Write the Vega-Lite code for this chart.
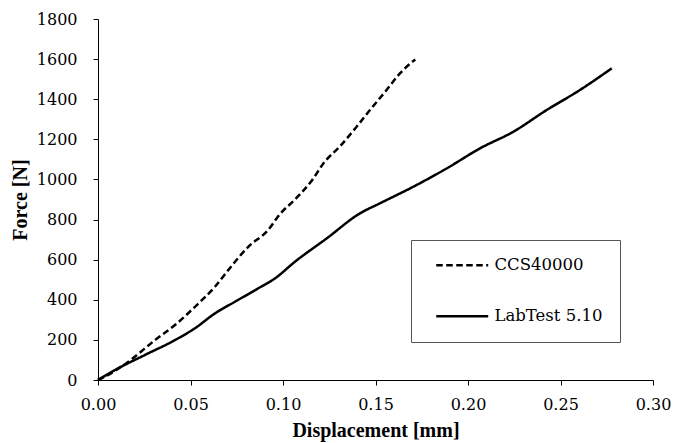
{
  "$schema": "https://vega.github.io/schema/vega-lite/v6.json",
  "width": 555,
  "height": 361,
  "autosize": "none",
  "padding": {"left": 98, "top": 19, "right": 20, "bottom": 63},
  "background": "white",
  "config": {
    "view": {"stroke": null},
    "font": "DejaVu Serif",
    "axis": {"labelFont": "DejaVu Serif", "titleFont": "Liberation Serif", "labelFontSize": 16, "titleFontSize": 20, "titleFontWeight": "bold", "labelColor": "black", "titleColor": "black", "domainColor": "black", "tickColor": "black", "grid": false, "tickSize": 5, "labelFlush": false}
  },
  "data": {"values": [
    {"s": "CCS40000", "x": 0, "y": 0},
    {"s": "CCS40000", "x": 0.0038, "y": 17},
    {"s": "CCS40000", "x": 0.0164, "y": 91},
    {"s": "CCS40000", "x": 0.0308, "y": 199},
    {"s": "CCS40000", "x": 0.0416, "y": 274},
    {"s": "CCS40000", "x": 0.0524, "y": 365},
    {"s": "CCS40000", "x": 0.0632, "y": 465},
    {"s": "CCS40000", "x": 0.0704, "y": 548},
    {"s": "CCS40000", "x": 0.0812, "y": 664},
    {"s": "CCS40000", "x": 0.092, "y": 748},
    {"s": "CCS40000", "x": 0.0984, "y": 828},
    {"s": "CCS40000", "x": 0.1065, "y": 900},
    {"s": "CCS40000", "x": 0.1164, "y": 1005},
    {"s": "CCS40000", "x": 0.1218, "y": 1080},
    {"s": "CCS40000", "x": 0.1308, "y": 1165},
    {"s": "CCS40000", "x": 0.1398, "y": 1263},
    {"s": "CCS40000", "x": 0.147, "y": 1346},
    {"s": "CCS40000", "x": 0.156, "y": 1446},
    {"s": "CCS40000", "x": 0.1632, "y": 1529},
    {"s": "CCS40000", "x": 0.1715, "y": 1598},
    {"s": "LabTest 5.10", "x": 0, "y": 0},
    {"s": "LabTest 5.10", "x": 0.0092, "y": 50},
    {"s": "LabTest 5.10", "x": 0.0254, "y": 125},
    {"s": "LabTest 5.10", "x": 0.0416, "y": 199},
    {"s": "LabTest 5.10", "x": 0.0524, "y": 258},
    {"s": "LabTest 5.10", "x": 0.0632, "y": 332},
    {"s": "LabTest 5.10", "x": 0.074, "y": 390},
    {"s": "LabTest 5.10", "x": 0.0866, "y": 457},
    {"s": "LabTest 5.10", "x": 0.0957, "y": 507},
    {"s": "LabTest 5.10", "x": 0.1065, "y": 590},
    {"s": "LabTest 5.10", "x": 0.1236, "y": 706},
    {"s": "LabTest 5.10", "x": 0.1416, "y": 831},
    {"s": "LabTest 5.10", "x": 0.1524, "y": 881},
    {"s": "LabTest 5.10", "x": 0.1705, "y": 964},
    {"s": "LabTest 5.10", "x": 0.1885, "y": 1055},
    {"s": "LabTest 5.10", "x": 0.2065, "y": 1155},
    {"s": "LabTest 5.10", "x": 0.2245, "y": 1238},
    {"s": "LabTest 5.10", "x": 0.2425, "y": 1346},
    {"s": "LabTest 5.10", "x": 0.2605, "y": 1446},
    {"s": "LabTest 5.10", "x": 0.2777, "y": 1554}
  ]},
  "mark": {"type": "line", "color": "black", "strokeWidth": 2.5, "interpolate": "monotone"},
  "encoding": {
    "x": {"field": "x", "type": "quantitative", "title": "Displacement [mm]",
      "scale": {"domain": [0, 0.3], "nice": false},
      "axis": {"values": [0, 0.05, 0.1, 0.15, 0.2, 0.25, 0.3], "format": ".2f", "labelPadding": 11, "titlePadding": 8}},
    "y": {"field": "y", "type": "quantitative", "title": "Force [N]",
      "scale": {"domain": [0, 1800], "nice": false},
      "axis": {"values": [0, 200, 400, 600, 800, 1000, 1200, 1400, 1600, 1800], "format": "d", "labelPadding": 16, "titlePadding": 6}},
    "strokeDash": {"field": "s", "type": "nominal",
      "scale": {"domain": ["CCS40000", "LabTest 5.10"], "range": [[6.5, 3.5], [1, 0]]},
      "legend": {"title": null, "orient": "none", "legendX": 313, "legendY": 221,
        "symbolType": "M0,0H10", "symbolSize": 108, "symbolStrokeWidth": 2.5, "symbolStrokeColor": "black",
        "labelFont": "DejaVu Serif", "labelFontSize": 16.5, "labelColor": "black", "labelOffset": 50,
        "padding": 17, "rowPadding": 34, "strokeColor": "#555", "fillColor": "white"}}
  }
}
